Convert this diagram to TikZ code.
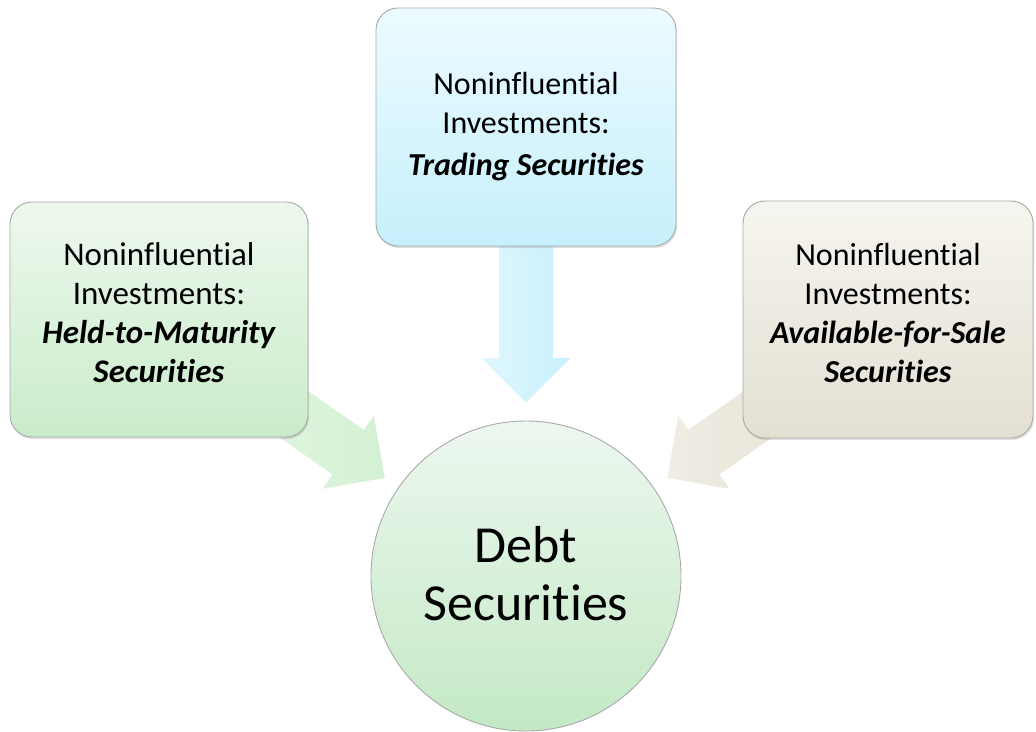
\documentclass[tikz,border=0pt]{standalone}
\usepackage{fontspec}
\setmainfont{Carlito}[Ligatures=NoCommon]
\usetikzlibrary{shapes.arrows,shadows}
\definecolor{boxline}{HTML}{A9A9A9}
\definecolor{cyanTop}{HTML}{ECFBFF}
\definecolor{cyanBot}{HTML}{C6F0FC}
\definecolor{greenTop}{HTML}{EEF8EE}
\definecolor{greenBot}{HTML}{C9ECCA}
\definecolor{beigeTop}{HTML}{F6F5EF}
\definecolor{beigeBot}{HTML}{E3E0D2}
\definecolor{circTop}{HTML}{EDF7EF}
\definecolor{circBot}{HTML}{C3E9C5}
\definecolor{arrCyanA}{HTML}{DFF7FE}
\definecolor{arrCyanB}{HTML}{C9F0FC}
\definecolor{arrGreenA}{HTML}{E2F6E2}
\definecolor{arrGreenB}{HTML}{D4F1D4}
\definecolor{arrBeigeA}{HTML}{EFEDE4}
\definecolor{arrBeigeB}{HTML}{E6E3D6}
\begin{document}
\begin{tikzpicture}[x=1pt,y=-1pt,
  box/.style={rectangle, rounded corners=22pt, draw=boxline, line width=0.9pt,
    inner sep=0pt, align=center, font=\fontsize{32}{39}\selectfont,
    drop shadow={shadow xshift=1pt, shadow yshift=-2pt, opacity=0.25}},
  blockarrow/.style={single arrow, single arrow head extend=17.5pt,
    minimum height=172pt, inner xsep=0pt, inner ysep=27pt, draw=none, anchor=tip},
  hub/.style={circle, minimum size=310pt, inner sep=0pt, draw=boxline, line width=0.9pt,
    align=center, font=\fontsize{52}{58}\selectfont, text height=94pt, text depth=6pt},
]
\useasboundingbox (0,0) rectangle (1036,731);
% block arrows (behind)
\node[blockarrow, rotate=-90, left color=arrCyanA, right color=arrCyanB] (adown) at (526,403) {};
\node[blockarrow, rotate=-35, left color=arrGreenA, right color=arrGreenB] (aleft) at (385,478) {};
\node[blockarrow, rotate=-145, left color=arrBeigeA, right color=arrBeigeB] (aright) at (667,478) {};
% boxes
\node[box, minimum width=300pt, minimum height=238pt, top color=cyanTop, bottom color=cyanBot,
  text height=103pt, text depth=7pt]
  (trading) at (526,127) {Noninfluential\\Investments:\\[3pt]\textbf{\textit{Trading Securities}}};
\node[box, minimum width=298pt, minimum height=235pt, top color=greenTop, bottom color=greenBot,
  text height=139pt, text depth=14pt, font=\fontsize{33}{39}\selectfont]
  (held) at (159,319.5) {Noninfluential\\Investments:\\\textbf{\textit{Held-to-Maturity}}\\\textbf{\textit{Securities}}};
\node[box, minimum width=290pt, minimum height=237pt, top color=beigeTop, bottom color=beigeBot,
  text height=139pt, text depth=14pt]
  (afs) at (888,319.5) {Noninfluential\\Investments:\\\textbf{\textit{Available-for-Sale}}\\\textbf{\textit{Securities}}};
% hub
\node[hub, top color=circTop, bottom color=circBot] (debt) at (526,576) {Debt\\Securities};
\end{tikzpicture}
\end{document}
